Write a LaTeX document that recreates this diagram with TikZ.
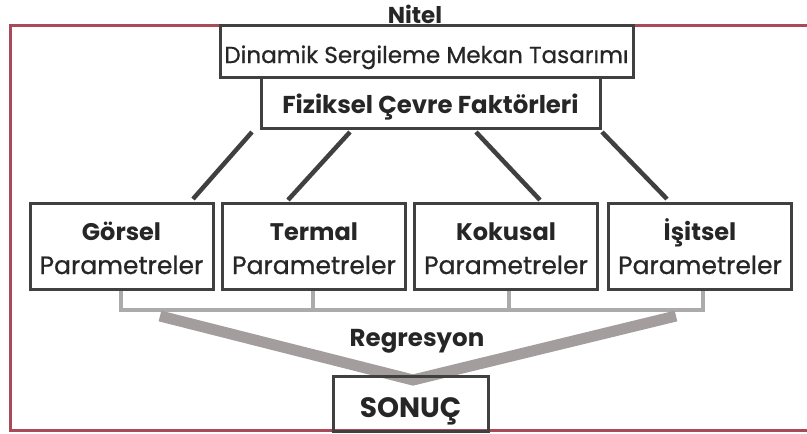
\documentclass[tikz,border=0pt]{standalone}
\usepackage{fontspec}
\setmainfont{Poppins}
\newfontfamily\medfont{Poppins}[FakeBold=0.7]
\usetikzlibrary{calc}
\definecolor{framered}{HTML}{A84A5A}
\definecolor{boxgray}{HTML}{404040}
\definecolor{txt}{HTML}{262626}
\definecolor{lightg}{HTML}{ABABAB}
\definecolor{bandg}{HTML}{A39D9D}
\tikzset{
  box/.style={draw=boxgray, line width=3pt, fill=white, inner sep=0pt, align=center, text=txt},
  pbox/.style={box, minimum width=183, minimum height=86, font=\fontsize{25}{34}\selectfont},
  slant/.style={draw=boxgray, line width=4.5pt},
  collector/.style={draw=lightg, line width=3.5pt},
  band/.style={draw=bandg, line width=11pt},
  plain/.style={text=txt, inner sep=0pt, anchor=base},
}
\newcommand{\ptext}[1]{\rule{0pt}{22pt}\smash{\fontsize{24}{34}\selectfont\bfseries #1}\\\smash{\medfont\fontsize{25}{34}\selectfont Parametreler}}
\begin{document}
\begin{tikzpicture}[x=1pt,y=-1pt]
\useasboundingbox (0,0) rectangle (807,434);
\clip (0,0) rectangle (807,434);
% frame
\draw[framered, line width=3pt] (10,25) rectangle (830,430);
\node[plain, font=\fontsize{23}{26}\selectfont\bfseries] (nitel) at (415,23) {Nitel};
% top boxes
\node[box, minimum width=413, minimum height=52] (din) at (426.5,51)
  {\rule{0pt}{24pt}\smash{\medfont\fontsize{23.1}{26}\selectfont Dinamik Sergileme Mekan Tasarımı}};
\node[box, minimum width=339, minimum height=51] (fiz) at (430.5,102.5)
  {\rule{0pt}{21pt}\smash{\fontsize{24.4}{28}\selectfont\bfseries Fiziksel Çevre Faktörleri}};
% parameter boxes
\node[pbox] (p1) at (121.5,246) {\ptext{Görsel}};
\node[pbox] (p2) at (314,246) {\ptext{Termal}};
\node[pbox] (p3) at (506,246) {\ptext{Kokusal}};
\node[pbox] (p4) at (700,246) {\ptext{İşitsel}};
% slanted connectors
\coordinate (s1) at (252,132); \coordinate (e1) at (193,199);
\coordinate (s2) at (350,132); \coordinate (e2) at (288,200);
\coordinate (s3) at (476,132); \coordinate (e3) at (540,200);
\coordinate (s4) at (602,132); \coordinate (e4) at (667,199);
\draw[slant] (s1) -- (e1);
\draw[slant] (s2) -- (e2);
\draw[slant] (s3) -- (e3);
\draw[slant] (s4) -- (e4);
% gray collector
\coordinate (c1) at (121,310);
\coordinate (c2) at (313,310);
\coordinate (c3) at (509,310);
\coordinate (c4) at (703,310);
\draw[collector] (p1.south -| c1) -- (c1) -- (c4) -- (p4.south -| c4);
\draw[collector] (p2.south -| c2) -- (c2);
\draw[collector] (p3.south -| c3) -- (c3);
% regression band
\coordinate (bl) at (160,316);
\coordinate (v) at (413,380);
\coordinate (br) at (676,316);
\draw[band] (bl) -- (v) -- (br);
\node[plain, font=\fontsize{24.5}{28}\selectfont\bfseries] (reg) at (417,346) {Regresyon};
\node[box, fill=none, minimum width=155, minimum height=55] (son) at (410.5,403.5)
  {\rule{0pt}{27pt}\smash{\fontsize{28}{30}\selectfont\bfseries SONUÇ}};
\end{tikzpicture}
\end{document}
